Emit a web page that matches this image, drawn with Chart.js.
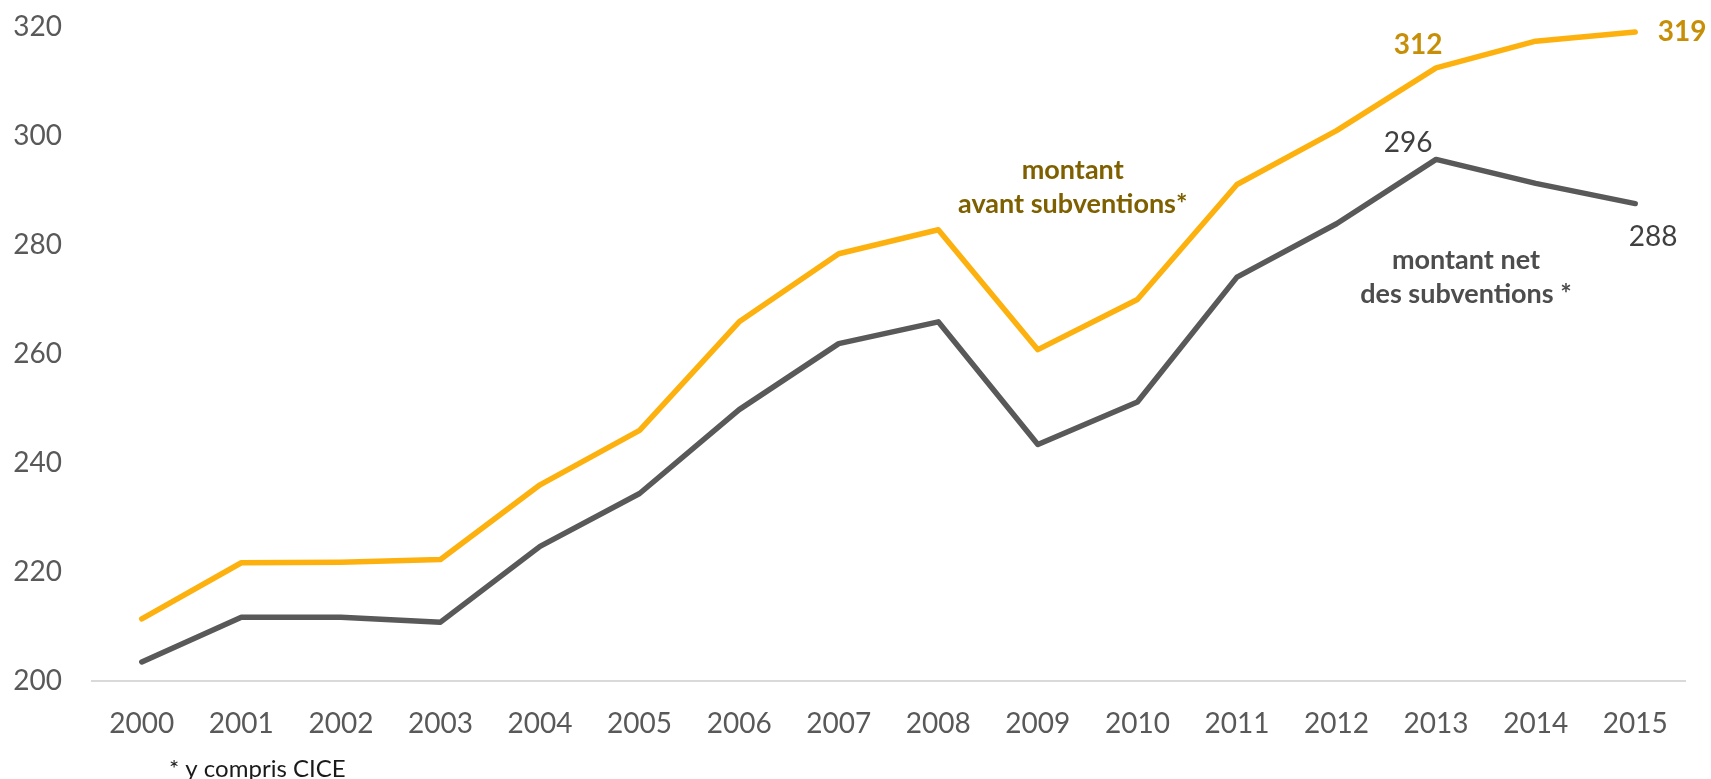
<!DOCTYPE html>
<html lang="fr">
<head>
    <meta charset="UTF-8">
    <title>Montant avant / net des subventions</title>
    <script src="https://cdn.jsdelivr.net/npm/chart.js"></script>
    <style>
        body { margin: 0; background: #fff; }
        #wrap { width: 1711px; height: 779px; position: relative; }
    </style>
</head>
<body>
    <div id="wrap"><canvas id="chart"></canvas></div>

    <script>
        // données
        var years = ['2000', '2001', '2002', '2003', '2004', '2005', '2006', '2007',
                     '2008', '2009', '2010', '2011', '2012', '2013', '2014', '2015'];
        var avantSubventions = [211.4, 221.7, 221.8, 222.3, 236.0, 246.0, 265.9, 278.4,
                                282.8, 260.8, 270.0, 291.1, 301.0, 312.5, 317.4, 319.1];
        var netSubventions = [203.5, 211.7, 211.7, 210.8, 224.7, 234.4, 249.8, 261.9,
                              265.9, 243.4, 251.2, 274.1, 283.9, 295.7, 291.3, 287.6];
        var yTicks = [200, 220, 240, 260, 280, 300, 320];

        var FONT = 'Lato, "Open Sans", sans-serif';
        var orange = '#FDB10F';
        var grey = '#595959';

        // étiquettes et textes posés par rapport aux échelles
        var annotations = {
            id: 'annotations',
            afterDatasetsDraw: function(chart) {
                var ctx = chart.ctx;
                var x = chart.scales.x, y = chart.scales.y;
                function txt(s, px, py, color, bold, size, align) {
                    ctx.save();
                    ctx.font = (bold ? 'bold ' : '') + size + 'px ' + FONT;
                    ctx.fillStyle = color;
                    ctx.textAlign = align || 'center';
                    ctx.textBaseline = 'middle';
                    ctx.fillText(s, px, py);
                    ctx.restore();
                }
                var i13 = 13, i15 = 15;
                txt('312', x.getPixelForValue(i13) - 18, y.getPixelForValue(avantSubventions[i13]) - 23, '#C68F07', true, 28);
                txt('319', x.getPixelForValue(i15) + 47, y.getPixelForValue(avantSubventions[i15]), '#C68F07', true, 28);
                txt('296', x.getPixelForValue(i13) - 28, y.getPixelForValue(netSubventions[i13]) - 16, '#404040', false, 28);
                txt('288', x.getPixelForValue(i15) + 18, y.getPixelForValue(netSubventions[i15]) + 33, '#404040', false, 28);

                txt('montant', x.getPixelForValue(9.35), 170, '#7F6000', true, 27);
                txt('avant subventions*', x.getPixelForValue(9.35), 204, '#7F6000', true, 27);
                txt('montant net', x.getPixelForValue(13.3), 260, '#4D4D4D', true, 27);
                txt('des subventions *', x.getPixelForValue(13.3), 294, '#4D4D4D', true, 27);

                txt('* y compris CICE', 169, 769, '#1a1a1a', false, 24, 'left');
            }
        };

        new Chart(document.getElementById('chart'), {
            type: 'line',
            data: {
                labels: years,
                datasets: [{
                    label: 'montant avant subventions*',
                    data: avantSubventions,
                    borderColor: orange,
                    borderWidth: 5.5,
                    pointRadius: 0,
                    tension: 0,
                    borderCapStyle: 'round',
                    borderJoinStyle: 'round'
                }, {
                    label: 'montant net des subventions *',
                    data: netSubventions,
                    borderColor: grey,
                    borderWidth: 5.5,
                    pointRadius: 0,
                    tension: 0,
                    borderCapStyle: 'round',
                    borderJoinStyle: 'round'
                }]
            },
            options: {
                responsive: true,
                maintainAspectRatio: false,
                animation: false,
                layout: { padding: { top: 27, right: 26, left: 0, bottom: 0 } },
                plugins: {
                    legend: { display: false },
                    tooltip: { enabled: false }
                },
                scales: {
                    x: {
                        offset: true,
                        grid: { display: false, drawTicks: false },
                        border: { display: true, color: '#D9D9D9', width: 2 },
                        ticks: {
                            color: '#595959',
                            font: { family: FONT, size: 28 },
                            padding: 26,
                            maxRotation: 0
                        },
                        afterFit: function(scale) { scale.height = 98; }
                    },
                    y: {
                        min: 200,
                        max: 320,
                        grid: { display: false, drawTicks: false },
                        border: { display: false },
                        ticks: {
                            stepSize: 20,
                            color: '#595959',
                            font: { family: FONT, size: 28 },
                            padding: 30,
                            callback: function(v) { return yTicks.indexOf(v) >= 0 ? v : ''; }
                        },
                        afterFit: function(scale) {
                            scale.width = 92;
                            scale.paddingTop = 0;
                            scale.paddingBottom = 0;
                        }
                    }
                }
            },
            plugins: [annotations]
        });
    </script>
</body>
</html>
